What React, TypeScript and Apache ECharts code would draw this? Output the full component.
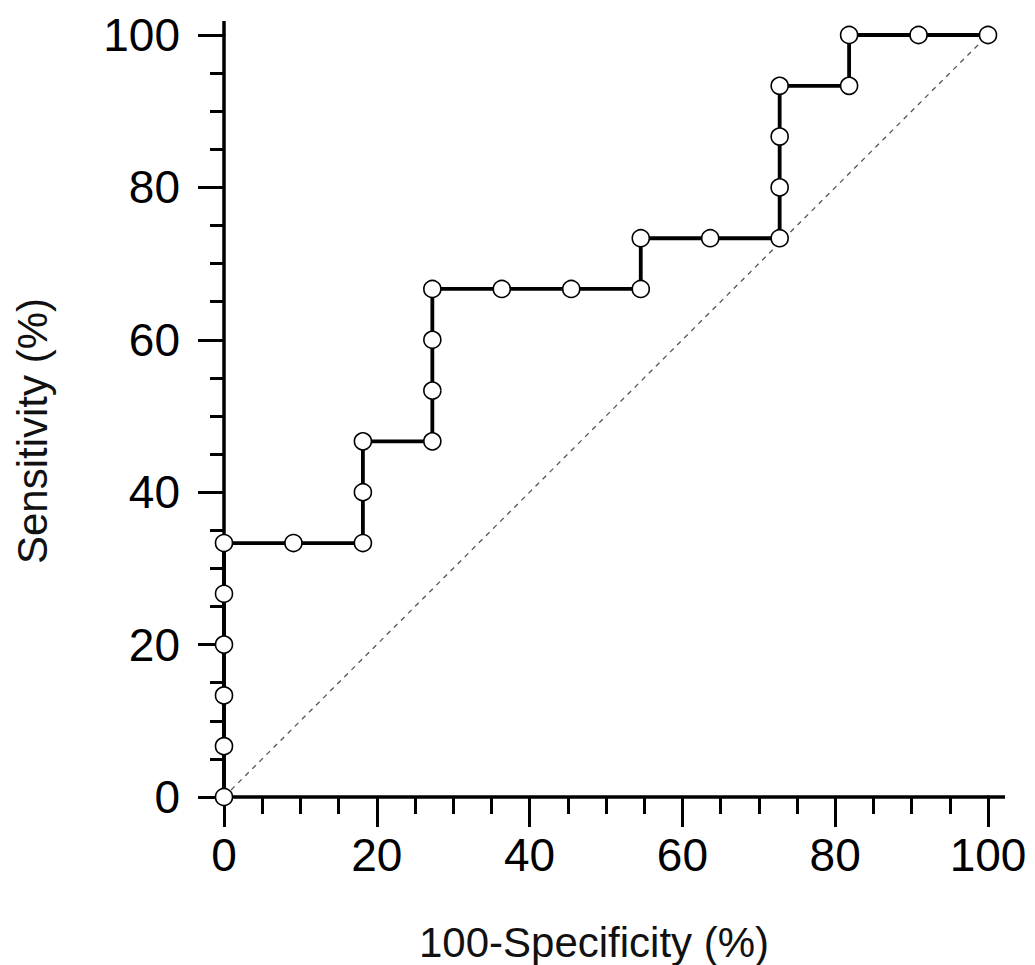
import React, { useEffect, useRef } from "react";
import * as echarts from "echarts";

// ROC curve points (100-Specificity %, Sensitivity %)
const fpr = [0, 0, 0, 0, 0, 0, 9.09, 18.18, 18.18, 18.18, 27.27, 27.27, 27.27, 27.27, 36.36, 45.45, 54.55, 54.55, 63.64, 72.73, 72.73, 72.73, 72.73, 81.82, 81.82, 90.91, 100];
const tpr = [0, 6.67, 13.33, 20, 26.67, 33.33, 33.33, 33.33, 40, 46.67, 46.67, 53.33, 60, 66.67, 66.67, 66.67, 66.67, 73.33, 73.33, 73.33, 80, 86.67, 93.33, 93.33, 100, 100, 100];
// chance diagonal
const diagX = [0, 100];
const diagY = [0, 100];

const xTitle = "100-Specificity (%)";
const yTitle = "Sensitivity (%)";

const W = 1035;
const H = 965;
const GL = 224;
const GR = 47;
const GT = 35;
const GB = 168;
const FONT = "Arial, 'Liberation Sans', sans-serif";

export default function App() {
  const ref = useRef<HTMLDivElement>(null);
  useEffect(() => {
    if (!ref.current) return;
    const chart = echarts.init(ref.current, undefined, { renderer: "svg" });
    const axisX = W - GR;
    const axisY = H - GB;
    chart.setOption({
      animation: false,
      backgroundColor: "#ffffff",
      grid: {
        left: GL,
        right: GR,
        top: GT,
        bottom: GB,
        containLabel: false,
        outerBoundsMode: "none",
      },
      xAxis: {
        type: "value",
        min: 0,
        max: 100,
        interval: 20,
        name: xTitle,
        nameLocation: "middle",
        nameGap: 124,
        nameTextStyle: { fontFamily: FONT, fontSize: 42, color: "#111", padding: [0, 24, 0, 0] },
        axisLine: { show: true, onZero: false, lineStyle: { color: "#000", width: 3.5 } },
        axisTick: { show: true, inside: false, length: 30, lineStyle: { color: "#000", width: 3 } },
        minorTick: { show: true, splitNumber: 4, length: 17, lineStyle: { color: "#000", width: 3 } },
        axisLabel: { show: true, margin: 35, fontFamily: FONT, fontSize: 46, color: "#000" },
        splitLine: { show: false },
        minorSplitLine: { show: false },
      },
      yAxis: {
        type: "value",
        min: 0,
        max: 100,
        interval: 20,
        name: yTitle,
        nameLocation: "middle",
        nameGap: 171,
        nameRotate: 90,
        nameTextStyle: { fontFamily: FONT, fontSize: 42, color: "#111", padding: [0, 30, 0, 0] },
        axisLine: { show: true, onZero: false, lineStyle: { color: "#000", width: 3.5 } },
        axisTick: { show: true, inside: false, length: 26, lineStyle: { color: "#000", width: 3 } },
        minorTick: { show: true, splitNumber: 4, length: 14, lineStyle: { color: "#000", width: 3 } },
        axisLabel: { show: true, margin: 44, fontFamily: FONT, fontSize: 46, color: "#000" },
        splitLine: { show: false },
        minorSplitLine: { show: false },
      },
      graphic: [
        { type: "line", shape: { x1: axisX - 1, y1: axisY, x2: axisX + 17, y2: axisY }, style: { stroke: "#000", lineWidth: 3.5 }, z: 1 },
        { type: "line", shape: { x1: GL, y1: GT + 1, x2: GL, y2: GT - 14 }, style: { stroke: "#000", lineWidth: 3.5 }, z: 1 },
      ],
      series: [
        {
          type: "line",
          data: diagX.map((x, i) => [x, diagY[i]]),
          symbol: "none",
          lineStyle: { color: "#555", width: 1.3, type: [5, 5] },
          z: 1,
          silent: true,
        },
        {
          type: "line",
          data: fpr.map((x, i) => [x, tpr[i]]),
          symbol: "circle",
          symbolSize: 17,
          showAllSymbol: true,
          clip: false,
          lineStyle: { color: "#000", width: 3.8 },
          itemStyle: { color: "#fff", borderColor: "#000", borderWidth: 1.6 },
          z: 5,
        },
      ],
    });
    return () => chart.dispose();
  }, []);
  return (
    <div
      ref={ref}
      style={{ position: "absolute", left: 0, top: 0, width: W, height: H, background: "#fff" }}
    />
  );
}
